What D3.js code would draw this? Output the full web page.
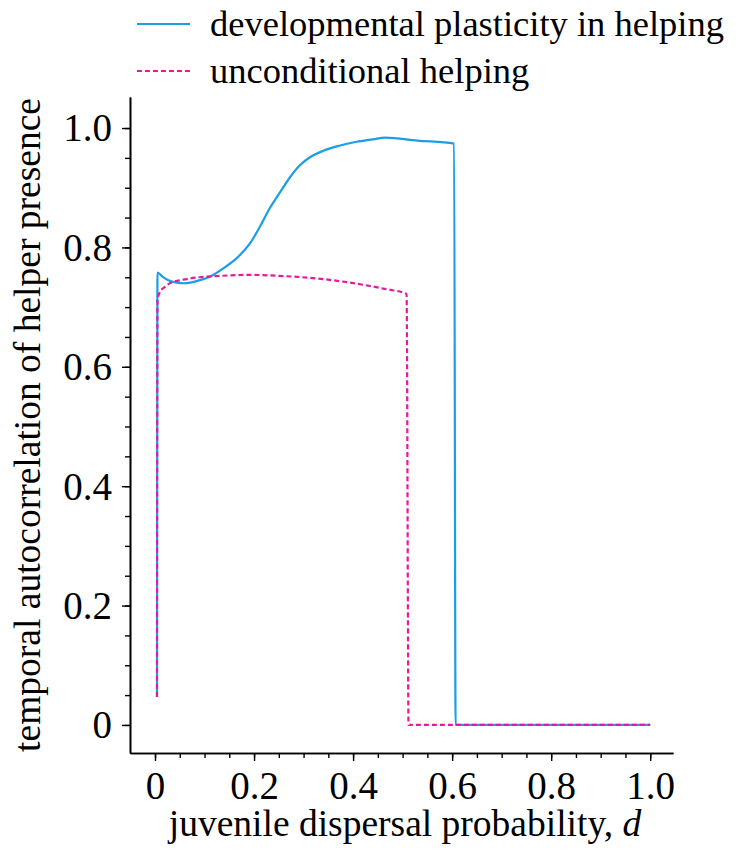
<!DOCTYPE html>
<html>
<head>
<meta charset="utf-8">
<script src="https://cdn.jsdelivr.net/npm/d3@7"></script>
<style>
  html, body { margin: 0; padding: 0; background: #fff; }
  svg text { font-family: "Liberation Serif", "Times New Roman", serif; fill: #000; }
</style>
</head>
<body>
<svg id="chart" width="738" height="857"></svg>
<script>
// ---- data ----
const seriesNames = ["developmental plasticity in helping", "unconditional helping"];
const plasticD = [0.004, 0.005, 0.015, 0.027, 0.044, 0.058, 0.071, 0.09, 0.111, 0.138, 0.165, 0.192, 0.212, 0.232, 0.253, 0.273, 0.293, 0.313, 0.34, 0.37, 0.407, 0.44, 0.465, 0.53, 0.604, 0.607, 0.8, 1.0];
const plasticV = [0.047, 0.758, 0.751, 0.745, 0.741, 0.740, 0.741, 0.745, 0.751, 0.765, 0.782, 0.807, 0.835, 0.866, 0.893, 0.918, 0.938, 0.951, 0.962, 0.970, 0.977, 0.981, 0.984, 0.979, 0.974, 0, 0, 0];
const uncondD = [0.004, 0.005, 0.01, 0.02, 0.03, 0.057, 0.09, 0.125, 0.192, 0.259, 0.327, 0.394, 0.461, 0.508, 0.512, 0.6, 0.8, 1.0];
const uncondV = [0.047, 0.712, 0.725, 0.734, 0.740, 0.746, 0.750, 0.752, 0.754, 0.752, 0.748, 0.741, 0.731, 0.722, 0, 0, 0, 0];
const xTicks = [0, 0.2, 0.4, 0.6, 0.8, 1.0];
const xTickLabels = ["0", "0.2", "0.4", "0.6", "0.8", "1.0"];
const yTicks = [0, 0.2, 0.4, 0.6, 0.8, 1.0];
const yTickLabels = ["0", "0.2", "0.4", "0.6", "0.8", "1.0"];
const colors = ["#1a9ee6", "#e6199f"];

(function () {
// ---- layout ----
const svg = d3.select("#chart");
const mLeft = 130, mRight = 673, mTop = 97, mBottom = 753;
const x = d3.scaleLinear().domain([-0.0505, 1.046]).range([mLeft, mRight]);
const y = d3.scaleLinear().domain([-0.047, 1.052]).range([mBottom, mTop]);

const fmtIdx = (arr, labels) => d => labels[arr.indexOf(d)] ?? "";

const minorX = d3.range(0, 1.0001, 0.05);
const minorY = d3.range(0, 1.0001, 0.05);

const gx = svg.append("g").attr("transform", `translate(0,${mBottom})`);
gx.call(d3.axisBottom(x).tickValues(minorX).tickSize(5).tickSizeOuter(0).tickFormat(""));
gx.append("g").call(d3.axisBottom(x).tickValues(xTicks).tickSize(8).tickSizeOuter(0).tickPadding(5)
  .tickFormat(fmtIdx(xTicks, xTickLabels)));
gx.selectAll(".domain").attr("stroke", "#000").attr("stroke-width", 1.6);
gx.selectAll(".tick line").attr("stroke", "#000").attr("stroke-width", 1.4);
gx.selectAll("text").style("font-size", "39px").attr("dy", "0.85em");

const gy = svg.append("g").attr("transform", `translate(${mLeft},0)`);
gy.call(d3.axisLeft(y).tickValues(minorY).tickSize(5).tickSizeOuter(0).tickFormat(""));
gy.append("g").call(d3.axisLeft(y).tickValues(yTicks).tickSize(8).tickSizeOuter(0).tickPadding(10)
  .tickFormat(fmtIdx(yTicks, yTickLabels)));
gy.selectAll(".domain").attr("stroke", "#000").attr("stroke-width", 1.6);
gy.selectAll(".tick line").attr("stroke", "#000").attr("stroke-width", 1.4);
gy.selectAll("text").style("font-size", "39px").attr("dy", "0.33em");

// ---- lines ----
const line = d3.line().x(d => x(d[0])).y(d => y(d[1])).curve(d3.curveMonotoneX);
const plastic = plasticD.map((d, i) => [d, plasticV[i]]);
const uncond = uncondD.map((d, i) => [d, uncondV[i]]);

svg.append("path").datum(plastic).attr("d", line)
  .attr("fill", "none").attr("stroke", colors[0]).attr("stroke-width", 2.2);
svg.append("path").datum(uncond).attr("d", line)
  .attr("fill", "none").attr("stroke", colors[1]).attr("stroke-width", 2.2)
  .attr("stroke-dasharray", "5,3");

// ---- legend ----
const legend = svg.append("g");
[0, 1].forEach(i => {
  const ly = 24 + i * 47;
  legend.append("line").attr("x1", 137).attr("x2", 190).attr("y1", ly).attr("y2", ly)
    .attr("stroke", colors[i]).attr("stroke-width", 2.2)
    .attr("stroke-dasharray", i === 1 ? "5,3" : null);
  legend.append("text").attr("x", 210).attr("y", ly).attr("dy", "0.33em")
    .style("font-size", "36.5px").text(seriesNames[i]);
});

// ---- axis titles ----
const xl = svg.append("text").attr("x", 405).attr("y", 836).attr("text-anchor", "middle")
  .style("font-size", "37.5px");
xl.append("tspan").text("juvenile dispersal probability, ");
xl.append("tspan").style("font-style", "italic").text("d");

svg.append("text").attr("transform", "translate(40,425) rotate(-90)")
  .attr("text-anchor", "middle").style("font-size", "37.5px")
  .text("temporal autocorrelation of helper presence");
})();
</script>
</body>
</html>
